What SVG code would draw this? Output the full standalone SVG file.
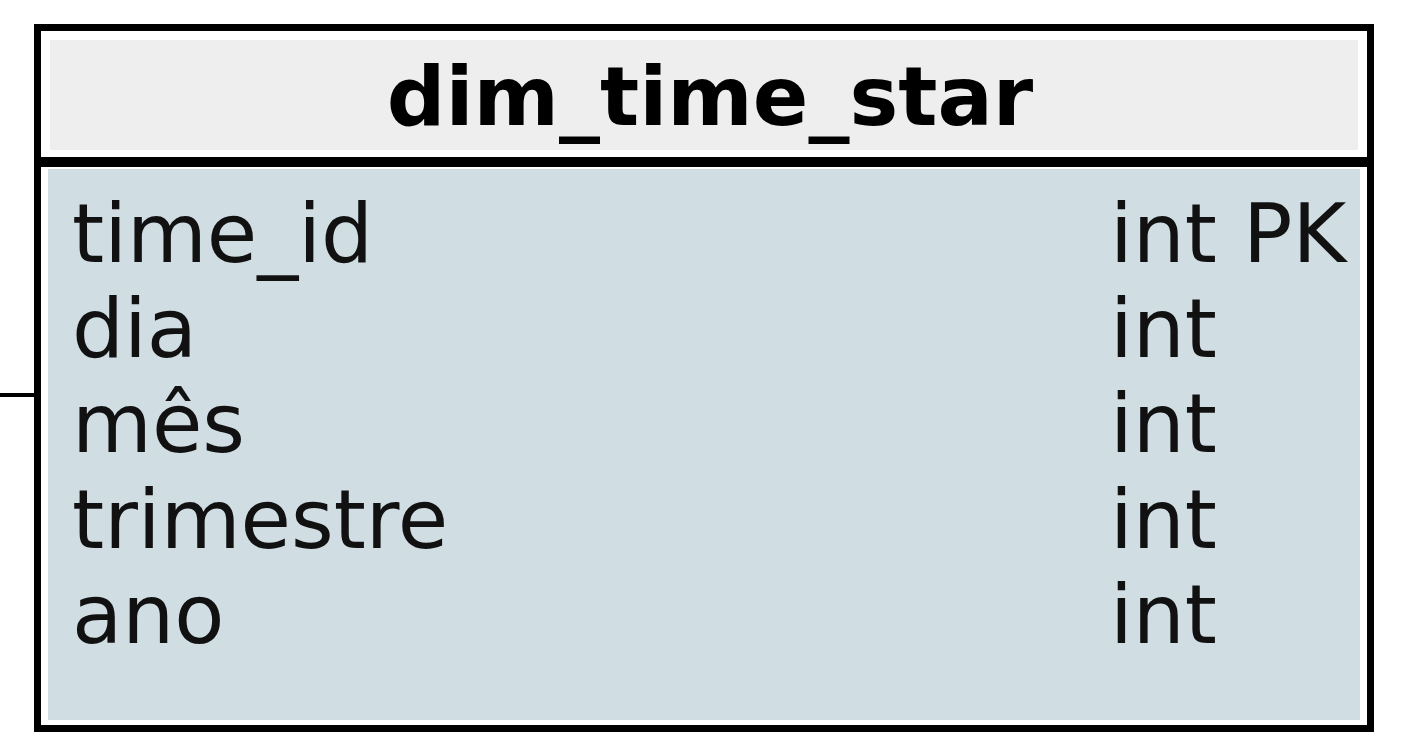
<svg xmlns="http://www.w3.org/2000/svg" width="1408" height="752" viewBox="0 0 1408 752">
<style>
.t{font-family:"DejaVu Sans",sans-serif;font-size:82px;fill:#111}
.h{font-family:"DejaVu Sans",sans-serif;font-size:82px;font-weight:bold;fill:#000}
</style>
<rect width="1408" height="752" fill="#ffffff"/>
<g id="connectors">
<line x1="0" y1="395" x2="38" y2="395" stroke="#000" stroke-width="4"/>
</g>
<g id="dim_time_star">
<rect x="37.5" y="27.5" width="1333" height="701" fill="#ffffff" stroke="#000" stroke-width="7"/>
<rect x="50" y="40" width="1308" height="110" fill="#eeeeee"/>
<rect x="41" y="157" width="1326" height="10" fill="#000"/>
<rect x="48" y="169" width="1312" height="551" fill="#d0dde3"/>
<text class="h" x="710" y="125" text-anchor="middle">dim_time_star</text>
<text class="t" x="72" y="262">time_id</text>
<text class="t" x="72" y="357">dia</text>
<text class="t" x="72" y="452">mês</text>
<text class="t" x="72" y="548">trimestre</text>
<text class="t" x="72" y="643">ano</text>
<text class="t" x="1110" y="262">int PK</text>
<text class="t" x="1110" y="357">int</text>
<text class="t" x="1110" y="452">int</text>
<text class="t" x="1110" y="548">int</text>
<text class="t" x="1110" y="643">int</text>
</g>
</svg>
